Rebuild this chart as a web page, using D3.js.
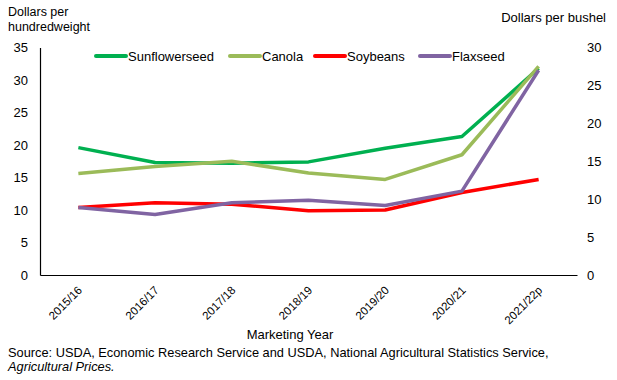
<!doctype html>
<meta charset="utf-8">
<title>Oilseed prices</title>
<script src="https://cdnjs.cloudflare.com/ajax/libs/d3/7.8.5/d3.min.js"></script>
<style>
  body { margin: 0; background: #fff; }
  text { font-family: "Liberation Sans", Arial, sans-serif; fill: #000; }
</style>
<div id="chart"></div>
<script>
  // data (dollars per hundredweight)
  const years = ['2015/16', '2016/17', '2017/18', '2018/19', '2019/20', '2020/21', '2021/22p']
  const sunflowerseed = [19.6, 17.3, 17.2, 17.4, 19.5, 21.3, 31.8]
  const canola = [15.6, 16.7, 17.5, 15.7, 14.7, 18.5, 32.1]
  const soybeans = [10.4, 11.1, 10.9, 9.9, 10.0, 12.7, 14.7]
  const flaxseed = [10.4, 9.3, 11.1, 11.5, 10.7, 12.9, 31.5]
  const leftTicks = [0, 5, 10, 15, 20, 25, 30, 35]
  const rightTicks = [0, 5, 10, 15, 20, 25, 30]

  const series = [
    { name: 'Sunflowerseed', values: sunflowerseed, color: '#00b050' },
    { name: 'Canola', values: canola, color: '#9bbb59' },
    { name: 'Soybeans', values: soybeans, color: '#ff0000' },
    { name: 'Flaxseed', values: flaxseed, color: '#8064a2' }
  ]

  const W = 617, H = 380
  const plotL = 40, plotR = 577, plotT = 47.5, plotB = 275

  const svg = d3.select('#chart').append('svg')
    .attr('width', W).attr('height', H)

  const x = d3.scalePoint().domain(years).range([plotL, plotR]).padding(0.5)
  const y = d3.scaleLinear().domain([0, 35]).range([plotB, plotT])
  const y2 = d3.scaleLinear().domain([0, 30]).range([plotB, plotT])

  // axes
  const yAxis = svg.append('g')
    .attr('transform', `translate(${plotL},0)`)
    .call(d3.axisLeft(y).tickValues(leftTicks).tickSize(0).tickPadding(12))
  yAxis.select('.domain').attr('stroke', '#000').attr('stroke-width', 1.2)
  yAxis.selectAll('text').style('font-size', '13px').attr('font-family', null)

  const y2Axis = svg.append('g')
    .attr('transform', `translate(${plotR},0)`)
    .call(d3.axisRight(y2).tickValues(rightTicks).tickSize(0).tickPadding(10))
  y2Axis.select('.domain').remove()
  y2Axis.selectAll('text').style('font-size', '13px').attr('font-family', null)

  const xAxis = svg.append('g')
    .attr('transform', `translate(0,${plotB})`)
    .call(d3.axisBottom(x).tickSize(0).tickSizeOuter(0))
  xAxis.select('.domain').attr('stroke', '#000').attr('stroke-width', 1.2)
  xAxis.selectAll('text')
    .style('font-size', '11.5px')
    .attr('font-family', null)
    .attr('text-anchor', 'end')
    .attr('dy', 0)
    .attr('y', 0)
    .attr('transform', 'translate(4,16) rotate(-45)')

  // lines
  const line = d3.line()
    .x((d, i) => x(years[i]))
    .y(d => y(d))

  svg.selectAll('.series')
    .data(series)
    .enter()
    .append('path')
    .attr('d', d => line(d.values))
    .attr('fill', 'none')
    .attr('stroke', d => d.color)
    .attr('stroke-width', 3.5)
    .attr('stroke-linejoin', 'round')

  // legend
  const legendX = [96, 230, 315, 420]
  const legend = svg.selectAll('.legend')
    .data(series)
    .enter()
    .append('g')
    .attr('transform', (d, i) => `translate(${legendX[i]},56)`)
  legend.append('line')
    .attr('x1', 0).attr('x2', 30)
    .attr('stroke', d => d.color)
    .attr('stroke-width', 4)
    .attr('stroke-linecap', 'round')
  legend.append('text')
    .attr('x', 32).attr('y', 5)
    .style('font-size', '13px')
    .text(d => d.name)

  // titles
  svg.append('text').attr('x', 8).attr('y', 16).style('font-size', '12.5px').text('Dollars per')
  svg.append('text').attr('x', 8).attr('y', 30.5).style('font-size', '12.5px').text('hundredweight')
  svg.append('text').attr('x', 606).attr('y', 22).attr('text-anchor', 'end')
    .style('font-size', '13px').text('Dollars per bushel')
  svg.append('text').attr('x', 290).attr('y', 339).attr('text-anchor', 'middle')
    .style('font-size', '13px').text('Marketing Year')

  svg.append('text').attr('x', 8).attr('y', 357).style('font-size', '12.8px')
    .text('Source: USDA, Economic Research Service and USDA, National Agricultural Statistics Service,')
  svg.append('text').attr('x', 8).attr('y', 371).style('font-size', '12.8px')
    .style('font-style', 'italic').text('Agricultural Prices.')
</script>
